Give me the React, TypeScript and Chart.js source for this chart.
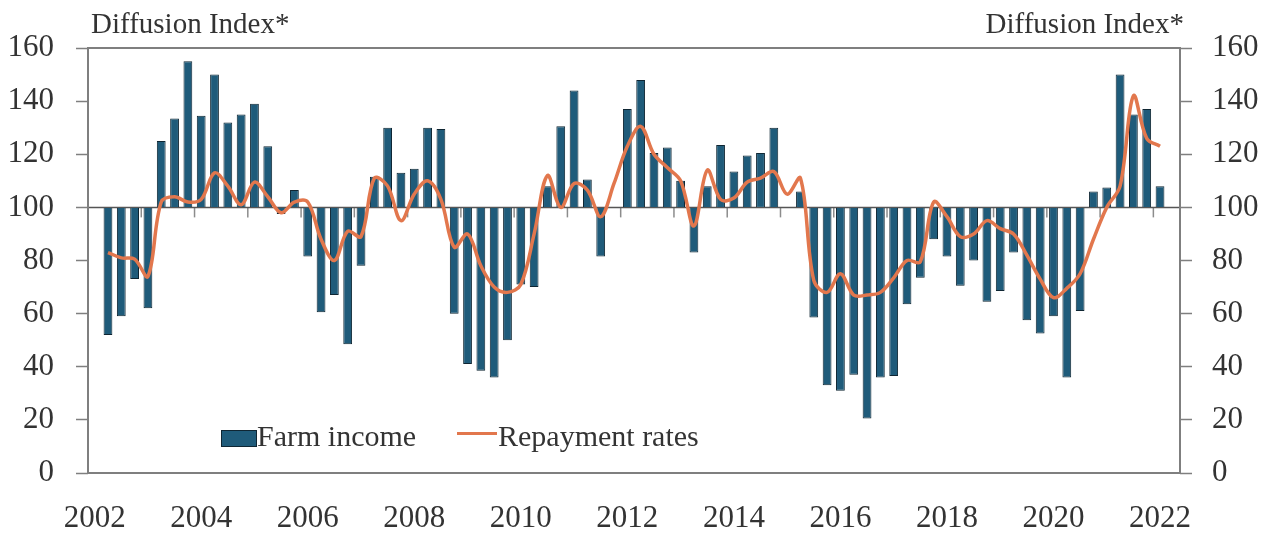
import React, { useEffect, useRef } from "react";
import { Chart, registerables } from "chart.js";

Chart.register(...registerables);

// Quarterly categories: 2002 Q1 .. 2022 Q2 (first and last are empty)
const years = [2002, 2003, 2004, 2005, 2006, 2007, 2008, 2009, 2010, 2011, 2012, 2013, 2014, 2015, 2016, 2017, 2018, 2019, 2020, 2021, 2022];
const quarterNames = ["Q1", "Q2", "Q3", "Q4"];
const categories: string[] = years
  .flatMap((y) => quarterNames.map((q) => `${y} ${q}`))
  .slice(0, 82);

const xTickLabels = ["2002", "2004", "2006", "2008", "2010", "2012", "2014", "2016", "2018", "2020", "2022"];
const yTicks = [0, 20, 40, 60, 80, 100, 120, 140, 160];

const farmIncome = [
  null,
  52, 59, 73, 62,
  125, 133.5, 155, 134.5,
  150, 132, 135, 139,
  123, 97.5, 106.5, 81.5,
  60.5, 67, 48.5, 78,
  111.5, 130, 113, 114.5,
  130, 129.5, 60, 41,
  38.5, 36, 50, 71,
  70, 108, 130.5, 144,
  110.5, 81.5, 100, 137,
  148, 120.5, 122.5, 110,
  83, 108, 123.5, 113.5,
  119.5, 120.5, 130, 100,
  106, 58.5, 33, 31,
  37, 20.5, 36, 36.5,
  63.5, 73.5, 88, 81.5,
  70.5, 80, 64.5, 68.5,
  83, 57.5, 52.5, 59,
  36, 61, 106, 107.5,
  150, 135, 137, 108,
  null,
];

const repaymentRates = [
  null,
  83, 81, 80.5, 74,
  102, 104, 102, 103,
  113, 108, 101, 109.5,
  104, 98, 102, 102,
  88, 80, 91, 89,
  111, 108, 95, 105,
  110, 103, 85, 90,
  78, 70, 68, 71,
  90, 112, 100, 109,
  106.5, 96.5, 109, 123,
  130.5, 120, 115, 110,
  93, 114, 103, 103.5,
  109.5, 111, 113.5, 105,
  111, 72.5, 68, 75,
  67, 67, 68, 73.5,
  80, 79.5, 102, 96.5,
  89, 90, 95, 92,
  90, 82, 73, 66,
  69.5, 75, 88, 100,
  108, 142, 126, 123,
  null,
];

const BAR_COLOR = "#1f5b7a";
const BAR_BORDER = "#0f2633";
const LINE_COLOR = "#e2774d";
const AXIS_COLOR = "#7f7f7f";
const TEXT_COLOR = "#333333";
const FONT = "'Liberation Serif', 'Times New Roman', serif";

const framePlugin = {
  id: "frame",
  beforeDatasetsDraw(chart: any) {
    const { ctx, chartArea, scales } = chart;
    const y100 = scales.y.getPixelForValue(100);
    ctx.save();
    // year tick marks hanging from the 100 line
    ctx.strokeStyle = "#8c8c8c";
    ctx.lineWidth = 1.5;
    const xs = scales.x;
    for (let i = 4; i < categories.length; i += 4) {
      const px = (xs.getPixelForValue(i - 1) + xs.getPixelForValue(i)) / 2;
      ctx.beginPath();
      ctx.moveTo(px, y100);
      ctx.lineTo(px, y100 + 10);
      ctx.stroke();
    }
    // 100 baseline
    ctx.strokeStyle = "#555555";
    ctx.lineWidth = 1.5;
    ctx.beginPath();
    ctx.moveTo(chartArea.left, y100);
    ctx.lineTo(chartArea.right, y100);
    ctx.stroke();
    ctx.restore();
  },
  afterDatasetsDraw(chart: any) {
    const { ctx, chartArea } = chart;
    ctx.save();
    ctx.strokeStyle = AXIS_COLOR;
    ctx.lineWidth = 2;
    ctx.strokeRect(chartArea.left, chartArea.top, chartArea.right - chartArea.left, chartArea.bottom - chartArea.top);
    ctx.restore();
  },
};

export default function App() {
  const canvasRef = useRef<HTMLCanvasElement | null>(null);

  useEffect(() => {
    if (!canvasRef.current) return;
    const tickFont = { family: FONT, size: 31 };
    const chart = new Chart(canvasRef.current, {
      type: "bar",
      data: {
        labels: categories,
        datasets: [
          {
            type: "line",
            label: "Repayment rates",
            data: repaymentRates as any,
            borderColor: LINE_COLOR,
            borderWidth: 3.5,
            pointRadius: 0,
            tension: 0.35,
            yAxisID: "y",
            order: 0,
          },
          {
            type: "bar",
            label: "Farm income",
            data: farmIncome as any,
            base: 100,
            backgroundColor: BAR_COLOR,
            borderColor: BAR_BORDER,
            borderWidth: 1,
            barPercentage: 0.66,
            categoryPercentage: 1,
            yAxisID: "y",
            order: 1,
          } as any,
        ],
      },
      options: {
        responsive: false,
        animation: false,
        devicePixelRatio: 1,
        layout: { padding: { top: 48, left: 0, right: 0, bottom: 0 } },
        plugins: {
          legend: { display: false },
          tooltip: { enabled: false },
        },
        scales: {
          x: {
            type: "category",
            offset: true,
            grid: { display: false, drawTicks: false },
            border: { display: false },
            ticks: {
              autoSkip: false,
              maxRotation: 0,
              minRotation: 0,
              padding: 27,
              color: TEXT_COLOR,
              font: tickFont,
              callback: (_v: any, i: number) => (i % 8 === 0 ? xTickLabels[i / 8] : ""),
            },
            afterFit: (s: any) => {
              s.height = 61;
            },
          },
          y: {
            position: "left",
            min: 0,
            max: 160,
            afterBuildTicks: (s: any) => {
              s.ticks = yTicks.map((v) => ({ value: v }));
            },
            grid: {
              display: true,
              drawOnChartArea: false,
              drawTicks: true,
              tickLength: 12,
              tickColor: AXIS_COLOR,
              tickWidth: 1.5,
            },
            border: { display: false },
            ticks: { padding: 22, color: TEXT_COLOR, font: tickFont },
            afterFit: (s: any) => {
              s.width = 88;
            },
          },
          y2: {
            position: "right",
            min: 0,
            max: 160,
            afterBuildTicks: (s: any) => {
              s.ticks = yTicks.map((v) => ({ value: v }));
            },
            grid: {
              display: true,
              drawOnChartArea: false,
              drawTicks: true,
              tickLength: 12,
              tickColor: AXIS_COLOR,
              tickWidth: 1.5,
            },
            border: { display: false },
            ticks: { padding: 20, color: TEXT_COLOR, font: tickFont },
            afterFit: (s: any) => {
              s.width = 91;
            },
          },
        },
      } as any,
      plugins: [framePlugin],
    });
    return () => chart.destroy();
  }, []);

  const textStyle: React.CSSProperties = {
    position: "absolute",
    fontFamily: FONT,
    color: TEXT_COLOR,
    fontSize: 29,
    lineHeight: "29px",
    whiteSpace: "nowrap",
  };

  return (
    <div style={{ position: "absolute", left: 0, top: 0, width: 1271, height: 534, background: "#ffffff", overflow: "hidden" }}>
      <canvas ref={canvasRef} width={1271} height={534} style={{ position: "absolute", left: 0, top: 0, width: 1271, height: 534 }} />
      <div style={{ ...textStyle, left: 91, top: 9 }}>Diffusion Index*</div>
      <div style={{ ...textStyle, right: 1271 - 1184, top: 9 }}>Diffusion Index*</div>
      {/* legend */}
      <div style={{ position: "absolute", left: 221, top: 430, width: 34, height: 15, background: BAR_COLOR, border: `1px solid ${BAR_BORDER}` }} />
      <div style={{ ...textStyle, fontSize: 30, lineHeight: "30px", left: 257, top: 421 }}>Farm income</div>
      <div style={{ position: "absolute", left: 457, top: 432, width: 40, height: 3, background: LINE_COLOR }} />
      <div style={{ ...textStyle, fontSize: 30, lineHeight: "30px", left: 498, top: 421 }}>Repayment rates</div>
    </div>
  );
}
